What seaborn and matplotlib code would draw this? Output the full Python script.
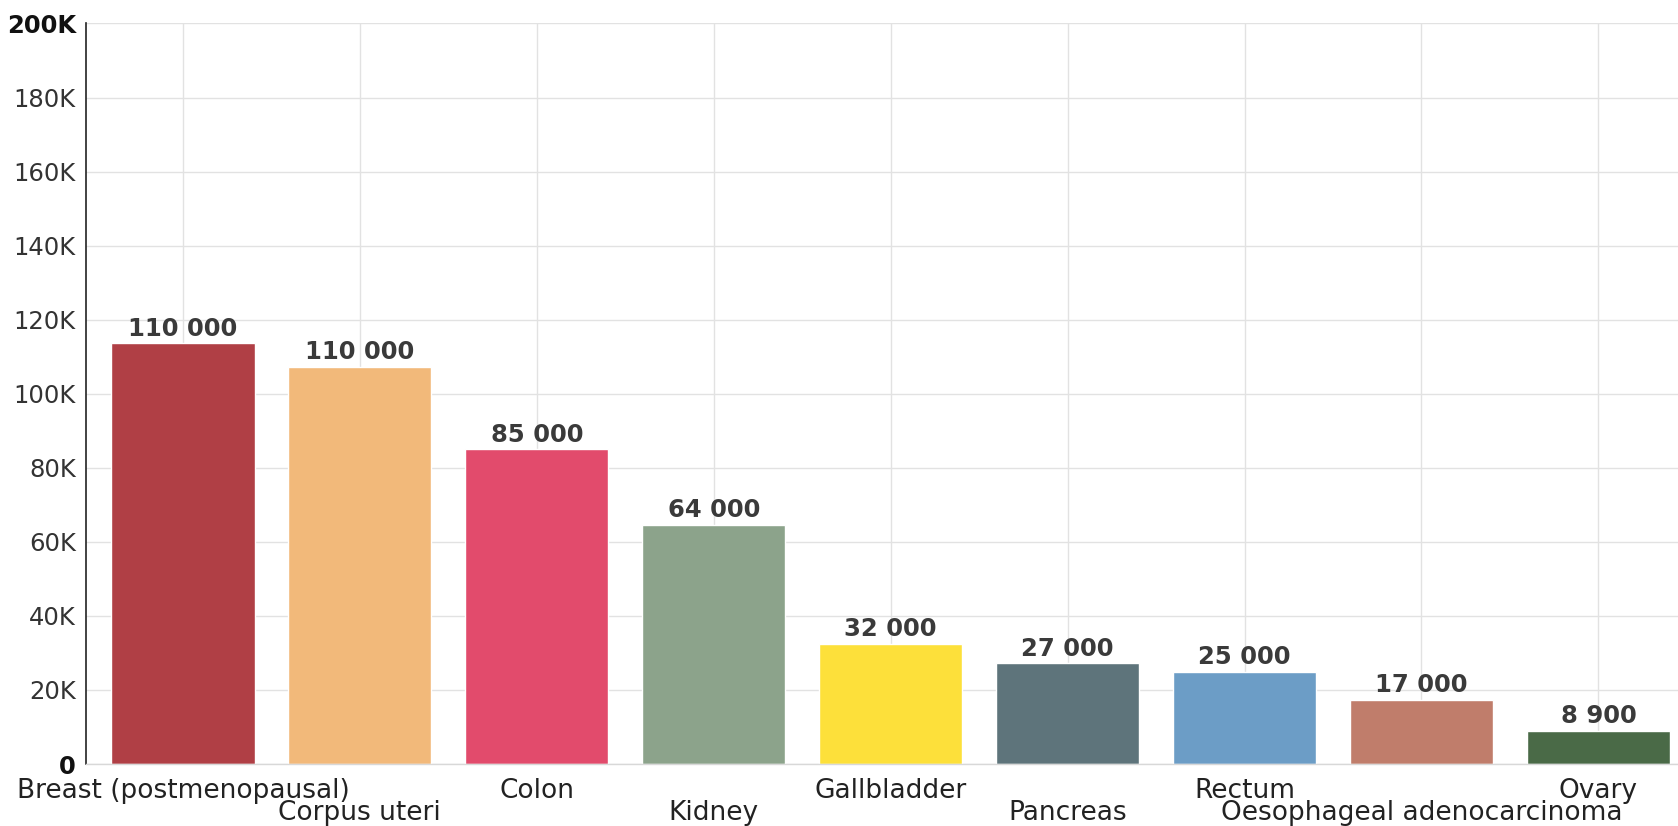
import matplotlib
matplotlib.use("Agg")
import matplotlib.pyplot as plt
import seaborn as sns
import pandas as pd

categories = ["Breast (postmenopausal)", "Corpus uteri", "Colon", "Kidney", "Gallbladder",
              "Pancreas", "Rectum", "Oesophageal adenocarcinoma", "Ovary"]
values = [113600, 107200, 85000, 64500, 32400, 27200, 24900, 17300, 9000]
value_labels = ["110 000", "110 000", "85 000", "64 000", "32 000", "27 000", "25 000", "17 000", "8 900"]
colors = ["#b03f45", "#f2b97a", "#e24b6c", "#8ca38b", "#fde03a", "#5e747b", "#6c9dc6", "#c07d6b", "#4a6a47"]
yticks = [0, 20000, 40000, 60000, 80000, 100000, 120000, 140000, 160000, 180000, 200000]
ytick_labels = ["0", "20K", "40K", "60K", "80K", "100K", "120K", "140K", "160K", "180K", "200K"]

sns.set_style("white")
plt.rcParams["font.family"] = ["DejaVu Sans"]

df = pd.DataFrame({"cat": categories, "val": values})
fig = plt.figure(figsize=(16.78, 8.26), dpi=100)
ax = fig.add_axes([0.051, 0.075, 0.949, 0.8966])

sns.barplot(data=df, x="cat", y="val", hue="cat", palette=colors, legend=False,
            width=0.81, saturation=1, ax=ax, zorder=2)

ax.set_xlim(-0.55, 8.45)
ax.set_ylim(0, 200000)
ax.set_yticks(yticks)
ax.set_yticklabels(ytick_labels)
ax.set_xlabel("")
ax.set_ylabel("")

ax.grid(True, color="#e2e2e2", linewidth=1, zorder=0)
ax.set_axisbelow(True)

for s in ["top", "right"]:
    ax.spines[s].set_visible(False)
ax.spines["left"].set_color("#222222")
ax.spines["left"].set_linewidth(1.2)
ax.spines["bottom"].set_color("#d8d8d8")
ax.spines["bottom"].set_linewidth(1)

ax.tick_params(axis="y", length=4, color="#222222", labelsize=17.5, labelcolor="#333333", pad=3)
ax.tick_params(axis="x", length=0, labelsize=19, labelcolor="#222222")
for lbl in ax.get_yticklabels():
    if lbl.get_text() in ("0", "200K"):
        lbl.set_fontweight("bold")
        lbl.set_color("#111111")

for i, t in enumerate(ax.xaxis.get_major_ticks()):
    t.set_pad(10 if i % 2 == 0 else 26)

containers = list(ax.containers)
if len(containers) == len(categories):
    for c, lab in zip(containers, value_labels):
        ax.bar_label(c, labels=[lab], fontsize=17.5, fontweight="bold", color="#3a3a3a", padding=2)
else:
    ax.bar_label(containers[0], labels=value_labels, fontsize=17.5, fontweight="bold",
                 color="#3a3a3a", padding=2)

fig.savefig("out.png", dpi=100)
